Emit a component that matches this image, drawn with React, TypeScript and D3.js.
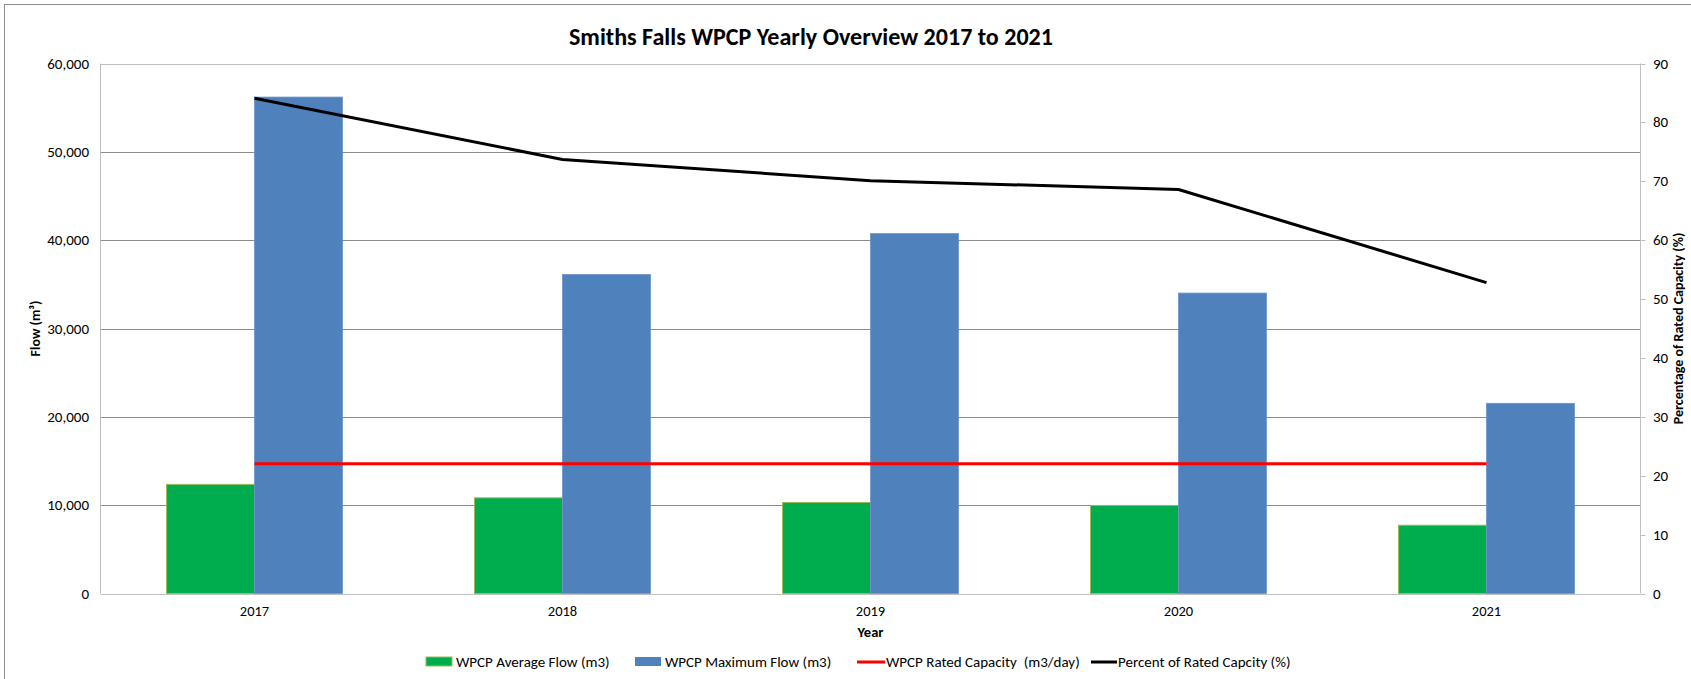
import React from "react";
import * as d3 from "d3";

const years = ["2017", "2018", "2019", "2020", "2021"];
const avgFlow = [12350, 10830, 10300, 9970, 7730];
const maxFlow = [56200, 36110, 40750, 34010, 21530];
const ratedCapacity = [14700, 14700, 14700, 14700, 14700];
const percentRated = [84.1, 73.7, 70.1, 68.6, 52.8];
const leftTicks = [0, 10000, 20000, 30000, 40000, 50000, 60000];
const rightTicks = [0, 10, 20, 30, 40, 50, 60, 70, 80, 90];

const W = 1691;
const H = 679;
const M = { left: 100.5, right: 1640.5, top: 63.5, bottom: 593.5 };
const FONT = "Carlito, Calibri, Lato, 'Liberation Sans', sans-serif";

export default function App() {
  const step = (M.right - M.left) / years.length;
  const xc = (y: string) => M.left + (years.indexOf(y) + 0.5) * step;
  const barW = step * 0.2857;
  const yL = d3.scaleLinear().domain([0, 60000]).range([M.bottom, M.top]);
  const yR = d3.scaleLinear().domain([0, 90]).range([M.bottom, M.top]);
  const fmt = d3.format(",");

  const lineL = d3.line<number>().x((_, i) => xc(years[i])).y((d) => yL(d));
  const lineR = d3.line<number>().x((_, i) => xc(years[i])).y((d) => yR(d));

  return (
    <svg width={W} height={H} style={{ position: "absolute", left: 0, top: 0, background: "#fff" }} fontFamily={FONT}>
      <rect x={4.5} y={4.5} width={W + 20} height={H + 20} fill="#fff" stroke="#8c8c8c" strokeWidth={1} />
      <text x={811} y={45} textAnchor="middle" fontSize={24} fontWeight="bold" fill="#000" textLength={484} lengthAdjust="spacingAndGlyphs">
        Smiths Falls WPCP Yearly Overview 2017 to 2021
      </text>

      {/* gridlines */}
      {leftTicks.map((t) => (
        <line key={"g" + t} x1={M.left} x2={M.right} y1={Math.round(yL(t)) + 0.5} y2={Math.round(yL(t)) + 0.5}
          stroke={t === 0 || t === 60000 ? "#bfbfbf" : "#8c8c8c"} strokeWidth={1} />
      ))}
      <line x1={M.left} x2={M.left} y1={M.top} y2={M.bottom} stroke="#bfbfbf" />
      <line x1={M.right} x2={M.right} y1={M.top} y2={M.bottom} stroke="#bfbfbf" />
      {rightTicks.map((t) => (
        <line key={"rt" + t} x1={M.right} x2={M.right + 5} y1={Math.round(yR(t)) + 0.5} y2={Math.round(yR(t)) + 0.5} stroke="#bfbfbf" />
      ))}

      {/* bars */}
      {years.map((yr, i) => (
        <g key={"b" + yr}>
          <rect x={xc(yr) - barW} y={yL(avgFlow[i])} width={barW} height={yL(0) - yL(avgFlow[i])} fill="#00ad4e" stroke="#9bbb59" strokeWidth={1} />
          <rect x={xc(yr)} y={yL(maxFlow[i])} width={barW} height={yL(0) - yL(maxFlow[i])} fill="#4f81bd" stroke="#6a94c8" strokeWidth={0.8} />
        </g>
      ))}

      {/* lines */}
      <path d={lineL(ratedCapacity) || ""} fill="none" stroke="#ff0000" strokeWidth={3} />
      <path d={lineR(percentRated) || ""} fill="none" stroke="#000" strokeWidth={3} strokeLinejoin="round" />

      {/* left tick labels */}
      {leftTicks.map((t) => (
        <text key={"lt" + t} x={89} y={yL(t) + 5} textAnchor="end" fontSize={15} fill="#000">{fmt(t)}</text>
      ))}
      {/* right tick labels */}
      {rightTicks.map((t) => (
        <text key={"rl" + t} x={1653} y={yR(t) + 5} textAnchor="start" fontSize={15} fill="#000">{t}</text>
      ))}
      {/* x labels */}
      {years.map((yr) => (
        <text key={"xl" + yr} x={xc(yr)} y={616} textAnchor="middle" fontSize={14.5} fill="#000">{yr}</text>
      ))}
      <text x={870.5} y={637} textAnchor="middle" fontSize={14.5} fontWeight="bold" fill="#000">Year</text>

      {/* axis titles */}
      <text transform={`translate(40,${(M.top + M.bottom) / 2}) rotate(-90)`} textAnchor="middle" fontSize={14} fontWeight="bold" fill="#000">
        Flow (m³)
      </text>
      <text transform={`translate(1683,${(M.top + M.bottom) / 2}) rotate(-90)`} textAnchor="middle" fontSize={14} fontWeight="bold" fill="#000">
        Percentage of Rated Capacity (%)
      </text>

      {/* legend */}
      <g fontSize={15} fill="#000">
        <rect x={426} y={657} width={26} height={9} fill="#00ad4e" stroke="#9bbb59" />
        <text x={456} y={667}>WPCP Average Flow (m3)</text>
        <rect x={635} y={657} width={26} height={9} fill="#4f81bd" />
        <text x={665} y={667}>WPCP Maximum Flow (m3)</text>
        <line x1={857} x2={885} y1={662} y2={662} stroke="#ff0000" strokeWidth={3} />
        <text x={886} y={667} style={{ whiteSpace: "pre" }}>{"WPCP Rated Capacity  (m3/day)"}</text>
        <line x1={1091} x2={1117} y1={662} y2={662} stroke="#000" strokeWidth={3} />
        <text x={1118} y={667}>Percent of Rated Capcity (%)</text>
      </g>
    </svg>
  );
}
